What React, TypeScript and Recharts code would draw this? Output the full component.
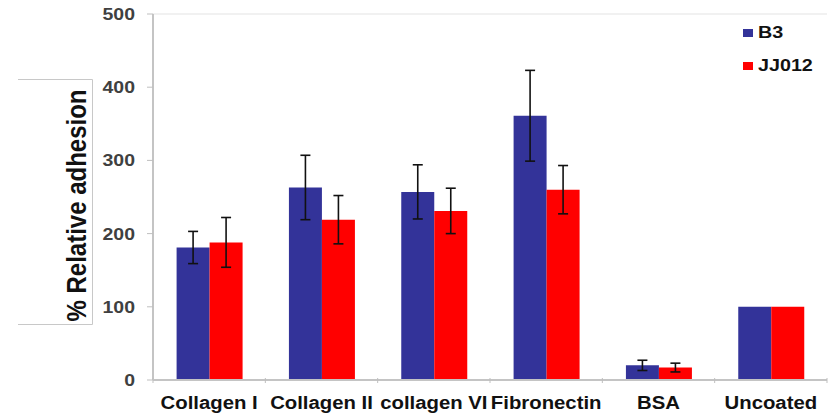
import React from 'react';
import { BarChart, Bar, XAxis, YAxis, ErrorBar, Legend, ReferenceLine } from 'recharts';

const categories = ['Collagen I', 'Collagen II', 'collagen VI', 'Fibronectin', 'BSA', 'Uncoated'];
const b3Values = [181, 263, 257, 361, 20, 100];
const b3Errors: (number | null)[] = [22, 44, 37, 62, 7, null];
const jjValues = [188, 219, 231, 260, 17, 100];
const jjErrors: (number | null)[] = [34, 33, 31, 33, 6, null];
const yTicks = [0, 100, 200, 300, 400, 500];

const data = categories.map((name, i) => ({
  name,
  B3: b3Values[i],
  B3err: b3Errors[i],
  JJ012: jjValues[i],
  JJ012err: jjErrors[i],
}));

const FONT = 'Arial, "Liberation Sans", sans-serif';
const SX = 1.13;

const XTick = (props: any) => {
  const { x, y, payload, index } = props;
  const off = payload && typeof payload.offset === 'number' ? payload.offset : 0;
  return (
    <g>
      <line x1={x - off} x2={x - off} y1={y - 2} y2={y + 3} stroke="#bfbfbf" strokeWidth={1} />
      {index === categories.length - 1 ? (
        <line x1={x + off} x2={x + off} y1={y - 2} y2={y + 3} stroke="#bfbfbf" strokeWidth={1} />
      ) : null}
      <text
        transform={`translate(${x},${y + 29}) scale(${SX},1)`}
        textAnchor="middle"
        fontFamily={FONT}
        fontWeight="bold"
        fontSize={18}
        fill="#111"
      >
        {payload.value}
      </text>
    </g>
  );
};

const YTick = (props: any) => {
  const { x, y, payload } = props;
  return (
    <text
      transform={`translate(${x - 10},${y}) scale(${SX + 0.05},1)`}
      textAnchor="end"
      dy="0.36em"
      fontFamily={FONT}
      fontWeight="bold"
      fontSize={16.5}
      fill="#404040"
    >
      {payload.value}
    </text>
  );
};

const LegendContent = (props: any) => {
  const { payload } = props;
  return (
    <div style={{ fontFamily: FONT }}>
      {(payload || []).map((p: any) => (
        <div key={p.value} style={{ display: 'flex', alignItems: 'center', height: 33 }}>
          <div style={{ width: 10, height: 8, background: p.color, marginRight: 5 }} />
          <div
            style={{
              fontWeight: 'bold',
              fontSize: 17,
              color: '#111',
              transform: `scaleX(${SX + 0.03})`,
              transformOrigin: 'left center',
              lineHeight: '17px',
            }}
          >
            {p.value}
          </div>
        </div>
      ))}
    </div>
  );
};

export default function App() {
  return (
    <div style={{ position: 'absolute', left: 0, top: 0, width: 828, height: 419, background: '#fff' }}>
      <BarChart
        width={828}
        height={419}
        data={data}
        margin={{ top: 14, right: 1, bottom: 0, left: 0 }}
        barCategoryGap="21%"
        barGap={0}
      >
        <ReferenceLine y={500} stroke="#e3e3e3" strokeWidth={1} />
        <XAxis
          dataKey="name"
          height={39}
          interval={0}
          tickLine={false}
          tickSize={0}
          tickMargin={0}
          axisLine={{ stroke: '#c4c4c4', strokeWidth: 2 }}
          tick={<XTick />}
        />
        <YAxis
          width={153}
          domain={[0, 500]}
          ticks={yTicks}
          interval={0}
          tickSize={6}
          axisLine={{ stroke: '#c4c4c4', strokeWidth: 2 }}
          tickLine={{ stroke: '#bfbfbf' }}
          tick={<YTick />}
        />
        <Legend
          layout="vertical"
          verticalAlign="middle"
          align="center"
          wrapperStyle={{ position: 'absolute', top: 16, left: 743, width: 85 }}
          content={<LegendContent />}
        />
        <Bar dataKey="B3" name="B3" fill="#333399" isAnimationActive={false}>
          <ErrorBar dataKey="B3err" width={5} stroke="#111" strokeWidth={1.6} direction="y" />
        </Bar>
        <Bar dataKey="JJ012" name="JJ012" fill="#ff0000" isAnimationActive={false}>
          <ErrorBar dataKey="JJ012err" width={5} stroke="#111" strokeWidth={1.6} direction="y" />
        </Bar>
      </BarChart>
      <svg
        width={828}
        height={419}
        style={{ position: 'absolute', left: 0, top: 0, pointerEvents: 'none' }}
      >
        <polyline points="18,79.5 92.5,79.5 92.5,324.5 18,324.5" fill="none" stroke="#c8c8c8" strokeWidth={1} />
        <text
          transform={`translate(86,205.5) scale(${SX + 0.02},1) rotate(-90)`}
          textAnchor="middle"
          fontFamily={FONT}
          fontWeight="bold"
          fontSize={24}
          fill="#111"
        >
          % Relative adhesion
        </text>
      </svg>
    </div>
  );
}
